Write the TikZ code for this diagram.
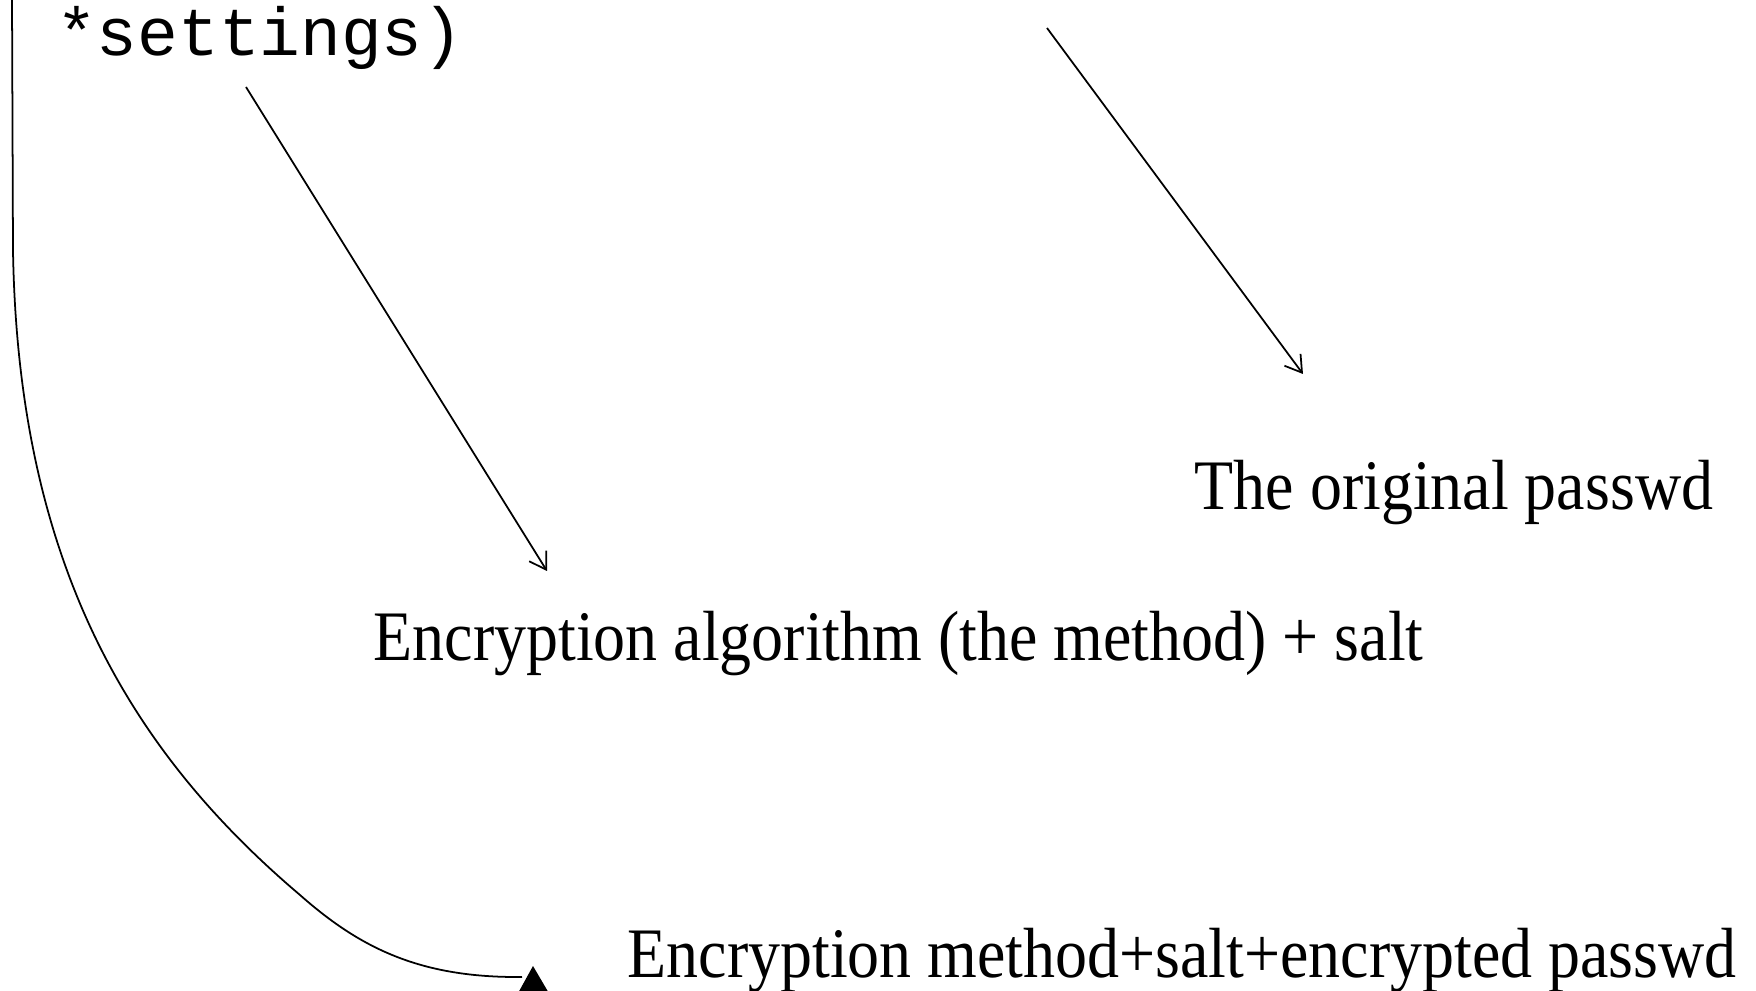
\documentclass[tikz,border=0pt]{standalone}
\usepackage{fontspec}
\setmainfont{Liberation Serif}
\setmonofont{Liberation Mono}
\usetikzlibrary{arrows.meta}
\tikzset{
  conn/.style={line width=0.5pt, draw=black},
  barb/.style={conn, -{Straight Barb[length=0.16cm, width=0.2cm, line width=0.5pt]}},
  lbl/.style={inner sep=0pt, anchor=base west, font=\fontsize{20.2pt}{24pt}\selectfont},
  code/.style={inner sep=0pt, anchor=base west, font=\ttfamily\fontsize{19.3pt}{23pt}\selectfont},
}
\begin{document}
\begin{tikzpicture}[x=0.01cm, y=-0.01cm]
\useasboundingbox (0,0) rectangle (1756,991);
\clip (0,0) rectangle (1756,991);
% texts
\node[code] (settings) at (55.5,56) {*settings)};
\node[lbl] (orig) at (1194,510) {\scalebox{0.9}[1]{The original passwd}};
\node[lbl] (alg) at (373,661) {\scalebox{0.9}[1]{Encryption algorithm (the method) + salt}};
\node[lbl] (res) at (627,978) {\scalebox{0.9}[1]{Encryption method+salt+encrypted passwd}};
% connector ends
\coordinate (a1s) at (246,87);
\coordinate (a1e) at (547,571);
\coordinate (a2s) at (1047,28);
\coordinate (a2e) at (1303,374);
\coordinate (cs) at (12,-2);
\coordinate (ce) at (522,977);
% arrows
\draw[barb] (a1s) -- (a1e);
\draw[barb] (a2s) -- (a2e);
\draw[conn] (cs) -- (13,250) .. controls (18,570) and (135,755) .. (300,895)
  .. controls (360,948) and (420,978) .. (ce);
% filled triangle head
\fill[black] (517,995) -- (533,966) -- (550,995) -- cycle;
\end{tikzpicture}
\end{document}
